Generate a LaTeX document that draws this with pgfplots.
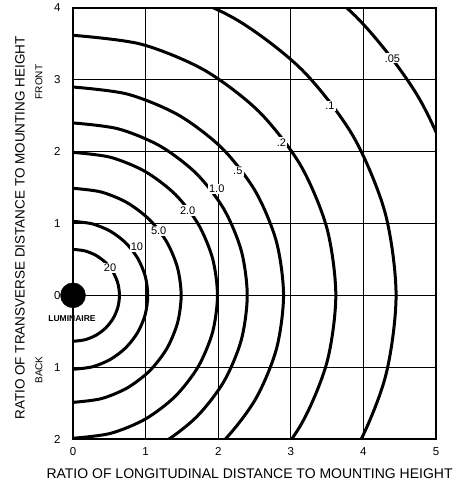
\documentclass[border=0pt]{standalone}
\usepackage{fontspec}
\setmainfont{Liberation Sans}
\usepackage{pgfplots}
\pgfplotsset{compat=1.18}
\begin{document}
\begin{tikzpicture}
\begin{axis}[
  scale only axis, width=363pt, height=431pt,
  xmin=0, xmax=5, ymin=-2, ymax=4,
  xtick={0,1,2,3,4,5}, ytick={-2,-1,0,1,2,3,4},
  yticklabels={2,1,0,1,2,3,4},
  /pgf/number format/assume math mode=true,
  tick label style={font=\fontsize{11.5}{13}\selectfont},
  major tick length=0pt,
  xticklabel style={yshift=-5pt},
  yticklabel style={xshift=-9pt},
  grid=major, grid style={black, line width=1pt},
  axis line style={black, line width=1.2pt},
]
% 20
\addplot[black, line width=3pt, smooth] coordinates {(0,-0.64)(0.1656,-0.6182)(0.32,-0.5542)(0.4525,-0.4525)(0.5542,-0.32)(0.6182,-0.1656)(0.64,0)(0.6182,0.1656)(0.5542,0.32)(0.4525,0.4525)(0.32,0.5542)(0.1656,0.6182)(0,0.64)};
% 10
\addplot[black, line width=3pt, smooth] coordinates {(0,-1.03)(0.2666,-0.9949)(0.515,-0.892)(0.7283,-0.7283)(0.892,-0.515)(0.9949,-0.2666)(1.03,0)(0.9949,0.2666)(0.892,0.515)(0.7283,0.7283)(0.515,0.892)(0.2666,0.9949)(0,1.03)};
% 5.0
\addplot[black, line width=3pt, smooth] coordinates {(0,-1.49)(0.3856,-1.4392)(0.745,-1.2903)(1.0536,-1.0536)(1.2903,-0.745)(1.4392,-0.3856)(1.49,0)(1.4392,0.3856)(1.2903,0.745)(1.0536,1.0536)(0.745,1.2903)(0.3856,1.4392)(0,1.49)};
% 2.0
\addplot[black, line width=3pt, smooth] coordinates {(0,-1.99)(0.515,-1.9221)(0.995,-1.7233)(1.4071,-1.4071)(1.7233,-0.995)(1.9221,-0.515)(1.99,0)(1.9221,0.515)(1.7233,0.995)(1.4071,1.4071)(0.995,1.7233)(0.515,1.9221)(0,1.99)};
% 1.0
\addplot[black, line width=3pt, smooth] coordinates {(0,-2.40)(0.6211,-2.3182)(1.2,-2.0785)(1.6971,-1.6971)(2.0785,-1.2)(2.3182,-0.6211)(2.40,0)(2.3182,0.6211)(2.0785,1.2)(1.6971,1.6971)(1.2,2.0785)(0.6211,2.3182)(0,2.40)};
% .5
\addplot[black, line width=3pt, smooth] coordinates {(0,-2.90)(0.7505,-2.8011)(1.45,-2.5114)(2.0506,-2.0506)(2.5114,-1.45)(2.8011,-0.7505)(2.90,0)(2.8011,0.7505)(2.5114,1.45)(2.0506,2.0506)(1.45,2.5114)(0.7505,2.8011)(0,2.90)};
% .2
\addplot[black, line width=3pt, smooth] coordinates {(0,-3.62)(0.9369,-3.4966)(1.81,-3.1349)(2.5597,-2.5597)(3.1349,-1.81)(3.4966,-0.9369)(3.62,0)(3.4966,0.9369)(3.1349,1.81)(2.5597,2.5597)(1.81,3.1349)(0.9369,3.4966)(0,3.62)};
% .1
\addplot[black, line width=3pt, smooth] coordinates {(0,-4.45)(1.1517,-4.2983)(2.225,-3.8537)(3.1466,-3.1466)(3.8537,-2.225)(4.2983,-1.1517)(4.45,0)(4.2983,1.1517)(3.8537,2.225)(3.1466,3.1466)(2.225,3.8537)(1.1517,4.2983)(0,4.45)};
% .05
\addplot[black, line width=3pt, smooth] coordinates {(0,-5.5)(1.4234,-5.3125)(2.75,-4.763)(3.8891,-3.8891)(4.763,-2.75)(5.3125,-1.4234)(5.5,0)(5.3125,1.4234)(4.763,2.75)(3.8891,3.8891)(2.75,4.763)(1.4234,5.3125)(0,5.5)};
% luminaire
\addplot[only marks, mark=*, mark size=12.5pt, black] coordinates {(0,0)};
% curve labels
\begin{scope}[every node/.style={fill=white, inner sep=1.2pt, font=\fontsize{11}{13}\selectfont}]
\node at (axis cs:0.51,0.38) {20};
\node at (axis cs:0.88,0.68) {10};
\node at (axis cs:1.18,0.90) {5.0};
\node at (axis cs:1.58,1.18) {2.0};
\node at (axis cs:1.98,1.48) {1.0};
\node at (axis cs:2.27,1.73) {.5};
\node at (axis cs:2.87,2.13) {.2};
\node at (axis cs:3.54,2.64) {.1};
\node at (axis cs:4.40,3.30) {.05};
\end{scope}
\end{axis}
\node[font=\fontsize{8.5}{9}\selectfont\bfseries] at (-1pt,120pt) {LUMINAIRE};
\node[rotate=90, font=\fontsize{13.5}{16}\selectfont] at (-53pt,211pt) {RATIO OF TRANSVERSE DISTANCE TO MOUNTING HEIGHT};
\node[rotate=90, font=\fontsize{10}{12}\selectfont] at (-34pt,357pt) {FRONT};
\node[rotate=90, font=\fontsize{10}{12}\selectfont] at (-34pt,69pt) {BACK};
\node[anchor=west, font=\fontsize{14}{16}\selectfont] at (-30pt,-35pt) {RATIO OF LONGITUDINAL DISTANCE TO MOUNTING HEIGHT};
\pgfresetboundingbox
\path[use as bounding box] (-73pt,-45pt) rectangle (383pt,439pt);
\end{tikzpicture}
\end{document}
